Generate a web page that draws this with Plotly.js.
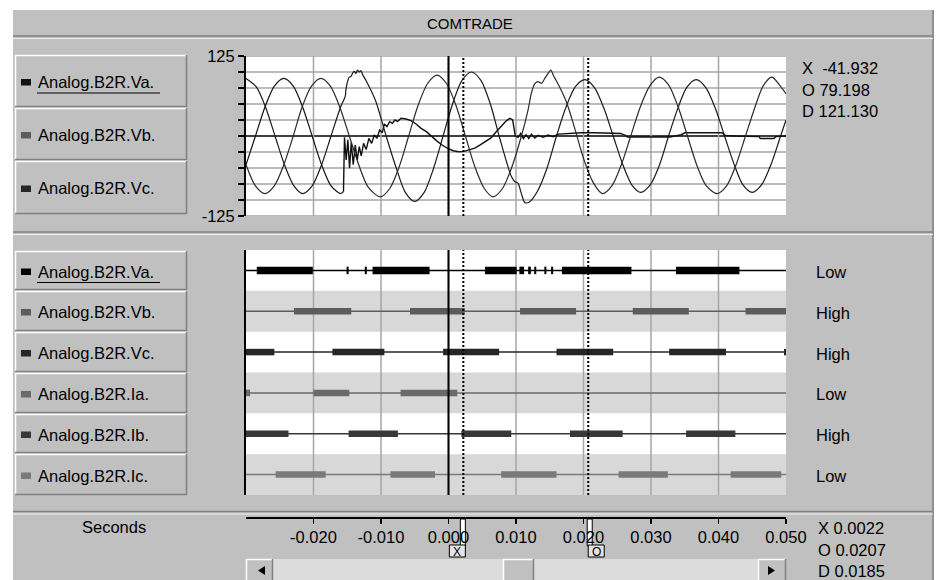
<!DOCTYPE html>
<html><head><meta charset="utf-8">
<script src="https://cdn.plot.ly/plotly-3.0.1.min.js"></script>
<style>html,body{margin:0;padding:0;background:#fff;}#chart{width:938px;height:580px;}</style>
</head><body><div id="chart"></div>
<script>
// ---------------- DATA ----------------
const chartTitle = 'COMTRADE';
const analogNames = ['Analog.B2R.Va.', 'Analog.B2R.Vb.', 'Analog.B2R.Vc.'];
const digitalNames = ['Analog.B2R.Va.', 'Analog.B2R.Vb.', 'Analog.B2R.Vc.', 'Analog.B2R.Ia.', 'Analog.B2R.Ib.', 'Analog.B2R.Ic.'];
const digitalStates = ['Low', 'High', 'High', 'Low', 'High', 'Low'];

const vaTime = [-0.0300,-0.0285,-0.0271,-0.0257,-0.0243,-0.0229,-0.0216,-0.0202,-0.0188,-0.0174,-0.0160,-0.0153,
  -0.0152,-0.01496,-0.01471,-0.01446,-0.01421,-0.01397,-0.01372,-0.01347,-0.01322,-0.01298,-0.01268,-0.01224,
  -0.0108,-0.0093,-0.0078,-0.0064,-0.0050,-0.0036,-0.0022,-0.0008,0.0006,0.0020,0.0034,0.0048,0.0062,0.0075,0.0093,
  0.0098,0.0103,0.0108,0.0113,0.0120,0.0132,0.0146,0.0160,0.0174,0.0188,0.0202,0.0216,0.0230,0.0244,0.0258,0.0272,
  0.0285,0.0299,0.0313,0.0326,0.0340,0.0353,0.0367,0.0381,0.0395,0.0409,0.0423,0.0436,0.0450,0.0464,0.0478,0.0492,0.0500];
const vaValue = [90,77,45,0,-45,-78,-90,-78,-45,0,45,62,
  72,85,92,93,98,101,98,103,100,102,95,87,
  55,2,-48,-88,-102,-88,-50,0,50,87,100,87,50,0,-63,
  -71,-74,-90,-104,-103,-86,-50,0,45,77,88,76,44,0,-44,-77,
  -88,-76,-44,0,44,76,88,76,44,0,-44,-76,-88,-76,-44,0,25];

const vbTime = [-0.0300,-0.0286,-0.0272,-0.0258,-0.0244,-0.0230,-0.0216,-0.0202,-0.0188,-0.0174,-0.0160,-0.01556,
  -0.01541,-0.01516,-0.01491,-0.01466,-0.01441,-0.01411,-0.01382,-0.01352,-0.01322,-0.01293,-0.01258,-0.01219,-0.01179,-0.01139,-0.01100,
  -0.01060,-0.01020,-0.00981,-0.00951,-0.00912,-0.00872,-0.00832,-0.00793,-0.00753,-0.00703,-0.00629,-0.00555,-0.00481,-0.00406,-0.00327,
  -0.0025,-0.0017,-0.0009,-0.0001,0.0007,0.0015,0.0023,0.0031,0.0039,0.0047,0.0055,0.0063,0.0071,0.0079,0.0086,0.0091,0.0095,0.0099,
  0.01030,0.01070,0.01110,0.01149,0.01189,0.01229,0.01278,0.01328,0.01402,0.01476,0.01551,0.01625,0.01773,0.01971,0.02169,0.02348,
  0.0255,0.0262,0.0265,0.0328,0.0335,0.0345,0.0350,0.0405,0.0410,0.0425,0.0460,0.0462,0.0482,0.0485,0.0500];
const vbValue = [-45,0,45,78,90,78,45,0,-45,-78,-90,-87,
  -2,-37.5,-6,-50.5,-10.4,-45,-14,-37.5,-16.7,-31,-11.5,-21,-3.6,-11.5,1.6,
  -3.6,9.4,5.2,18.8,14.6,22.4,19.8,25,22.9,27.6,26.6,24,18.8,12,6.8,
  -1,-8,-14.5,-19.5,-23,-24.5,-24,-22,-19,-14,-8,-3,7,16,24,27.6,25,0,
  -2,4,-4,2,-4,3,-3,1,-2,1.5,-1,3,4,5,5,5,
  4,1,-1.5,-1.5,0,2,5,5,1,0,-1,-4,-4,-1,0];
const vbFaultIndex = 11;

const vcTime = [-0.0300,-0.0286,-0.0272,-0.0258,-0.0244,-0.0230,-0.0217,-0.0203,-0.0189,-0.0175,-0.0161,-0.0147,-0.0133,-0.0119,-0.0101,
  -0.0087,-0.0073,-0.0059,-0.0045,-0.0031,-0.0017,-0.0003,0.0011,0.0025,0.0039,0.0053,0.0066,0.0080,0.0094,0.0108,
  0.01179,0.01228,0.01278,0.01328,0.01377,0.01427,0.01476,0.01516,0.01556,0.0160,
  0.0174,0.0187,0.0200,0.0214,0.0228,0.0242,0.0256,0.0270,0.0284,0.0298,0.0312,0.0326,0.0340,0.0354,0.0368,0.0382,0.0398,
  0.0412,0.0426,0.0440,0.0454,0.0466,0.0479,0.0493,0.0500];
const vcValue = [-45,-78,-90,-78,-45,0,45,78,90,78,45,0,-45,-80,-95,
  -82,-48,0,48,82,95,82,48,0,-48,-82,-95,-82,-48,0,
  41,67,82,85,82,90,98,103,94,86,
  55,12,-35,-72,-90,-78,-45,0,45,78,92,80,46,0,-46,-78,-90,
  -78,-45,0,45,78,92,76,66];

const vaSegments = [[-0.0284,-0.0201],[-0.0151,-0.0148],[-0.0124,-0.0121],[-0.01125,-0.0028],[0.0054,0.0101],[0.0105,0.0112],
  [0.0118,0.0122],[0.0127,0.0130],[0.0142,0.0145],[0.0152,0.0155],[0.0168,0.0271],[0.0337,0.0431]];
const vbSegments = [[-0.0229,-0.0144],[-0.0057,0.0024],[0.0106,0.0189],[0.0273,0.0356],[0.0440,0.0500]];
const vcSegments = [[-0.0300,-0.0258],[-0.0172,-0.0095],[-0.0008,0.0075],[0.0160,0.0244],[0.0327,0.0411],[0.0497,0.0500]];
const iaSegments = [[-0.0300,-0.0294],[-0.0200,-0.0147],[-0.0071,0.0013]];
const ibSegments = [[-0.0300,-0.0237],[-0.0148,-0.0075],[0.0019,0.0093],[0.0180,0.0258],[0.0352,0.0425]];
const icSegments = [[-0.0256,-0.0182],[-0.0086,-0.0020],[0.0078,0.0160],[0.0252,0.0325],[0.0418,0.0493]];

const timeRange = [-0.030, 0.050];
const voltRange = [-125, 125];
const timeTicks = [-0.02, -0.01, 0, 0.01, 0.02, 0.03, 0.04, 0.05];
const timeTickLabels = ['-0.020', '-0.010', '0.000', '0.010', '0.020', '0.030', '0.040', '0.050'];
const voltTicks = [-125, -100, -75, -50, -25, 0, 25, 50, 75, 100, 125];
const voltTickLabels = ['-125', '', '', '', '', '', '', '', '', '', '125'];
const triggerTime = 0;
const cursorX = 0.0022;
const cursorO = 0.0207;
const analogReadout = ['X\u00a0\u00a0-41.932', 'O 79.198', 'D 121.130'];
const timeReadout = ['X 0.0022', 'O 0.0207', 'D 0.0185'];
const axisLabel = 'Seconds';

// ---------------- STYLE / LAYOUT ----------------
const W = 938, H = 580;
const px = x => x / W;
const py = y => 1 - y / H;
const FONT = 'Liberation Sans, Arial, Helvetica, sans-serif';
const FS = 16.5;
const GRAY = '#c0c0c0', DARK = '#808080', GRID = '#a6a6a6';
const analogColors = ['#1a1a1a', '#111111', '#2a2a2a'];
const digitalColors = ['#000000', '#5c5c5c', '#262626', '#6a6a6a', '#383838', '#7a7a7a'];
const digitalSegments = [vaSegments, vbSegments, vcSegments, iaSegments, ibSegments, icSegments];

const plotL = 246, plotR = 786;
const topT = 56, topB = 216, digT = 250, digB = 495;
const pxPerSec = (plotR - plotL) / (timeRange[1] - timeRange[0]);
const tToPx = t => plotL + (t - timeRange[0]) * pxPerSec;

const shapes = [];
const annotations = [];
function rectP(x0, y0, x1, y1, fill, line) {
  shapes.push({type: 'rect', xref: 'paper', yref: 'paper', x0: px(x0), x1: px(x1), y0: py(y1), y1: py(y0),
    fillcolor: fill, line: line || {width: 0}, layer: 'below'});
}
function lineP(x0, y0, x1, y1, color, width) {
  shapes.push({type: 'line', xref: 'paper', yref: 'paper', x0: px(x0), y0: py(y0), x1: px(x1), y1: py(y1),
    line: {color: color, width: width}, layer: 'below'});
}
function pathP(pts, fill) {
  const d = pts.map((p, i) => (i ? 'L' : 'M') + px(p[0]) + ',' + py(p[1])).join(' ') + ' Z';
  shapes.push({type: 'path', xref: 'paper', yref: 'paper', path: d, fillcolor: fill, line: {width: 0}, layer: 'below'});
}
function button(x0, y0, x1, y1) {
  rectP(x0, y0, x1, y1, GRAY);
  lineP(x0, y0 + 0.5, x1, y0 + 0.5, '#ffffff', 1.5);
  lineP(x0 + 0.5, y0, x0 + 0.5, y1, '#ffffff', 1.5);
  lineP(x0, y1 - 0.5, x1, y1 - 0.5, DARK, 1.5);
  lineP(x1 - 0.5, y0, x1 - 0.5, y1, DARK, 1.5);
}
function text(x, y, t, anchor, size) {
  annotations.push({xref: 'paper', yref: 'paper', x: px(x), y: py(y), text: t, showarrow: false,
    xanchor: anchor || 'left', yanchor: 'middle', font: {family: FONT, size: size || FS, color: '#000'}});
}

// window frame
rectP(0, 0, W, 10, '#ffffff');
rectP(0, 0, 13, H, '#ffffff');
rectP(934, 0, W, H, '#ffffff');
lineP(933, 10, 933, H, DARK, 1.5);
lineP(13, 36, 933, 36, DARK, 1.5);
lineP(13, 38.5, 933, 38.5, '#eeeeee', 1);
lineP(13, 232, 933, 232, DARK, 1.5);
lineP(13, 234.5, 933, 234.5, '#eeeeee', 1);
lineP(13, 511.5, 933, 511.5, DARK, 1.5);
lineP(13, 514, 933, 514, '#eeeeee', 1);
text(470, 23, chartTitle, 'center', 15);

// channel buttons
const topButtons = [[55, 107], [108, 160], [161, 214]];
const digButtons = [[251, 290], [291, 331], [332, 372], [373, 413], [414, 453], [454, 495]];
function channelButtons(list, names, colors, underlineFirst) {
  list.forEach((b, i) => {
    button(15, b[0], 187, b[1]);
    const cy = (b[0] + b[1]) / 2 + 1;
    rectP(21, cy - 3, 31, cy + 3.5, colors[i]);
    text(36, cy, names[i], 'left', FS);
    if (i === 0 && underlineFirst) lineP(37, cy + 11, 160, cy + 11, '#000000', 1.2);
  });
}
channelButtons(topButtons, analogNames, ['#111111', '#5c5c5c', '#262626'], true);
channelButtons(digButtons, digitalNames, digitalColors, true);

// readouts
analogReadout.forEach((t, i) => text(800, 68 + i * 21.5, t, 'left', FS));
digitalStates.forEach((t, i) => text(814, digT + (i + 0.5) * (digB - digT) / 6 + 1.5, t, 'left', FS));
timeReadout.forEach((t, i) => text(816, 528 + i * 21.5, t, 'left', FS));
text(114, 527, axisLabel, 'center', FS);

// scrollbar
rectP(273, 559, 758, 582, '#dcdcdc');
button(246, 559, 273, 583);
pathP([[258, 570.5], [265, 566], [265, 575]], '#000000');
button(758, 559, 786, 583);
pathP([[775, 570.5], [768, 566], [768, 575]], '#000000');
button(503, 559, 534, 583);

// cursor handles
[[cursorX, 'X', -1], [cursorO, 'O', 1]].forEach(c => {
  const xc = tToPx(c[0]);
  const sx0 = c[2] < 0 ? xc - 3 : xc - 1;
  rectP(sx0, 519, sx0 + 5, 546, '#ffffff', {color: '#000', width: 1});
  const bx0 = c[2] < 0 ? xc - 14 : xc;
  rectP(bx0, 545, bx0 + 16, 557, '#e4e4e4', {color: '#000', width: 1});
  text(bx0 + 8, 551.5, c[1], 'center', 12);
});

// plot backgrounds and grids (axis referenced)
digitalNames.forEach((n, i) => {
  if (i % 2 === 1) {
    const c = digitalNames.length - 0.5 - i;
    shapes.push({type: 'rect', xref: 'x2', yref: 'y2', x0: timeRange[0], x1: timeRange[1], y0: c - 0.5, y1: c + 0.5,
      fillcolor: '#d8d8d8', line: {width: 0}, layer: 'below'});
  }
});
voltTicks.forEach(v => {
  shapes.push({type: 'line', xref: 'x', yref: 'y', x0: timeRange[0], x1: timeRange[1], y0: v, y1: v,
    line: {color: v === 0 ? '#000000' : GRID, width: 1.5}, layer: 'below'});
});
timeTicks.filter(t => t < timeRange[1]).forEach(t => {
  shapes.push({type: 'line', xref: 'x', yref: 'y', x0: t, x1: t, y0: voltRange[0], y1: voltRange[1],
    line: {color: GRID, width: 1.5}, layer: 'below'});
  shapes.push({type: 'line', xref: 'x2', yref: 'y2', x0: t, x1: t, y0: 0, y1: digitalNames.length,
    line: {color: GRID, width: 1.5}, layer: 'below'});
});
// trigger and cursor lines
[['x', 'y', voltRange[0], voltRange[1]], ['x2', 'y2', 0, digitalNames.length]].forEach(a => {
  shapes.push({type: 'line', xref: a[0], yref: a[1], x0: triggerTime, x1: triggerTime, y0: a[2], y1: a[3],
    line: {color: '#000000', width: 2}, layer: 'above'});
  [cursorX, cursorO].forEach(c => {
    shapes.push({type: 'line', xref: a[0], yref: a[1], x0: c, x1: c, y0: a[2], y1: a[3],
      line: {color: '#000000', width: 2, dash: '2px,2px'}, layer: 'above'});
  });
});

// ---------------- TRACES ----------------
const data = [];
data.push({type: 'scatter', mode: 'lines', x: vaTime, y: vaValue, xaxis: 'x', yaxis: 'y', hoverinfo: 'skip',
  line: {color: analogColors[0], width: 1.2, shape: 'spline', smoothing: 0.8}});
data.push({type: 'scatter', mode: 'lines', x: vbTime.slice(0, vbFaultIndex + 1), y: vbValue.slice(0, vbFaultIndex + 1),
  xaxis: 'x', yaxis: 'y', hoverinfo: 'skip', line: {color: analogColors[1], width: 1.2, shape: 'spline', smoothing: 0.8}});
data.push({type: 'scatter', mode: 'lines', x: vbTime.slice(vbFaultIndex), y: vbValue.slice(vbFaultIndex),
  xaxis: 'x', yaxis: 'y', hoverinfo: 'skip', line: {color: analogColors[1], width: 1.4}});
data.push({type: 'scatter', mode: 'lines', x: vcTime, y: vcValue, xaxis: 'x', yaxis: 'y', hoverinfo: 'skip',
  line: {color: analogColors[2], width: 1.2, shape: 'spline', smoothing: 0.8}});

digitalSegments.forEach((segs, i) => {
  const c = digitalNames.length - 0.5 - i;
  data.push({type: 'scatter', mode: 'lines', x: timeRange, y: [c, c], xaxis: 'x2', yaxis: 'y2', hoverinfo: 'skip',
    line: {color: digitalColors[i], width: 1.5}});
  const xs = [], ys = [];
  segs.forEach(s => { xs.push(s[0], s[1], null); ys.push(c, c, null); });
  data.push({type: 'scatter', mode: 'lines', x: xs, y: ys, xaxis: 'x2', yaxis: 'y2', hoverinfo: 'skip',
    line: {color: digitalColors[i], width: i === 0 ? 7.5 : 6.5}});
});

const layout = {
  width: W, height: H,
  margin: {l: 0, r: 0, t: 0, b: 0, pad: 0},
  paper_bgcolor: GRAY, plot_bgcolor: '#ffffff',
  showlegend: false, hovermode: false, dragmode: false,
  font: {family: FONT, size: FS, color: '#000'},
  xaxis: {domain: [px(plotL), px(plotR)], range: timeRange, anchor: 'y', showgrid: false, zeroline: false,
    showline: false, showticklabels: false, ticks: '', fixedrange: true},
  yaxis: {domain: [py(topB), py(topT)], range: voltRange, anchor: 'x', showgrid: false, zeroline: false,
    showline: true, linecolor: '#000', linewidth: 2, ticks: 'outside', ticklen: 6, tickwidth: 1.5, tickcolor: '#000',
    tickmode: 'array', tickvals: voltTicks, ticktext: voltTickLabels, tickfont: {family: FONT, size: FS, color: '#000'},
    fixedrange: true},
  xaxis2: {domain: [px(plotL), px(plotR)], range: timeRange, anchor: 'free', position: py(517), showgrid: false,
    zeroline: false, showline: true, linecolor: '#000', linewidth: 1.5, ticks: 'outside', ticklen: 5, tickwidth: 1.5,
    tickcolor: '#000', tickmode: 'array', tickvals: timeTicks, ticktext: timeTickLabels,
    tickfont: {family: FONT, size: FS, color: '#000'}, fixedrange: true},
  yaxis2: {domain: [py(digB), py(digT)], range: [0, digitalNames.length], anchor: 'x2', showgrid: false, zeroline: false,
    showline: true, linecolor: '#000', linewidth: 2, ticks: '', showticklabels: false, fixedrange: true},
  shapes: shapes,
  annotations: annotations
};

Plotly.newPlot('chart', data, layout, {staticPlot: true, displayModeBar: false});
</script>
</body></html>
